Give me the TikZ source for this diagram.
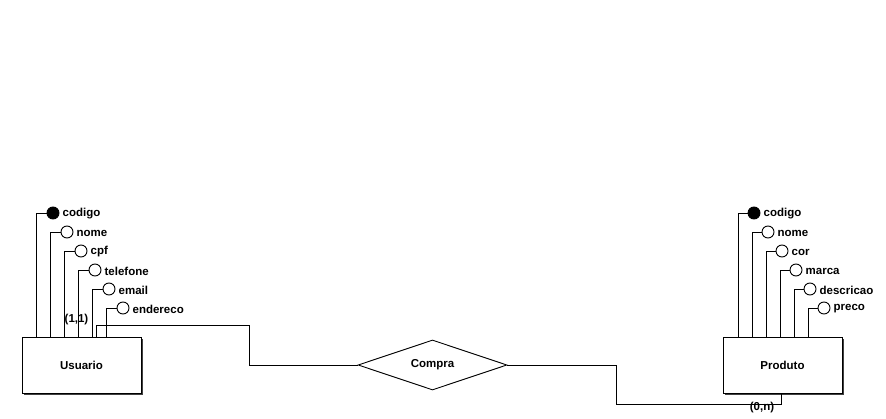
\documentclass[tikz,border=0pt]{standalone}
\usepackage{fontspec}
\setmainfont{Liberation Sans}
\usetikzlibrary{shapes.geometric,shadows}
\begin{document}
\begin{tikzpicture}[x=1pt,y=-1pt,
  every node/.style={font=\fontsize{11.5}{13}\selectfont\bfseries},
  entity/.style={draw,line width=0.9pt,fill=white,minimum width=119pt,minimum height=56pt,inner sep=0pt,
    drop shadow={shadow xshift=2pt,shadow yshift=-2pt,fill=black!75,opacity=1}},
  rel/.style={draw,diamond,aspect=3,line width=0.9pt,minimum width=149pt,minimum height=50pt,inner sep=0pt},
  attr/.style={draw,circle,line width=0.9pt,minimum size=12pt,inner sep=0pt,fill=white},
  keyattr/.style={attr,fill=black},
  alabel/.style={anchor=west,inner sep=0pt,xshift=3pt,yshift=-1pt},
  card/.style={inner sep=0pt},
  conn/.style={line width=0.9pt}]
\path[use as bounding box] (0,0) rectangle (886,419);

% entities
\node[entity] (usuario) at (81.5,365) {Usuario};
\node[entity] (produto) at (782.5,365) {Produto};
\node[rel] (compra) at (432.5,365) {\raisebox{-1pt}{Compra}};

% Usuario attributes
\node[keyattr] (u1) at (53,213) {};
\node[attr] (u2) at (67,232) {};
\node[attr] (u3) at (81,251) {};
\node[attr] (u4) at (95,270) {};
\node[attr] (u5) at (109,289) {};
\node[attr] (u6) at (123,308) {};
\node[alabel] (lu1) at (u1.east) {codigo};
\node[alabel] (lu2) at (u2.east) {nome};
\node[alabel] (lu3) at (u3.east) {cpf};
\node[alabel] (lu4) at (u4.east) {telefone};
\node[alabel] (lu5) at (u5.east) {email};
\node[alabel] (lu6) at (u6.east) {endereco};
\coordinate (ub1) at (36,337);
\coordinate (ub2) at (50,337);
\coordinate (ub3) at (64,337);
\coordinate (ub4) at (78,337);
\coordinate (ub5) at (92,337);
\coordinate (ub6) at (106,337);
\foreach \i in {1,...,6}{\draw[conn] (u\i.west) -| (ub\i);}

% Produto attributes
\node[keyattr] (p1) at (754,213) {};
\node[attr] (p2) at (768,232) {};
\node[attr] (p3) at (782,251) {};
\node[attr] (p4) at (796,270) {};
\node[attr] (p5) at (810,289) {};
\node[attr] (p6) at (824,308) {};
\node[alabel] (lp1) at (p1.east) {codigo};
\node[alabel] (lp2) at (p2.east) {nome};
\node[alabel] (lp3) at (p3.east) {cor};
\node[alabel] (lp4) at (p4.east) {marca};
\node[alabel] (lp5) at (p5.east) {descricao};
\node[alabel] (lp6) at (p6.east) {preco};
\coordinate (pb1) at (738,337);
\coordinate (pb2) at (752,337);
\coordinate (pb3) at (766,337);
\coordinate (pb4) at (780,337);
\coordinate (pb5) at (794,337);
\coordinate (pb6) at (808,337);
\foreach \i in {1,...,6}{\draw[conn] (p\i.west) -| (pb\i);}

% relationship connectors
\coordinate (us) at (96,337);
\coordinate (pr) at (781,393);
\draw[conn] (us) -- (96,325) -- (249,325) -- (249,365) -- (compra.west);
\draw[conn] (compra.east) -- (616,365) -- (616,404) -- (781,404) -- (pr);

% cardinalities
\node[card] (c1) at (76.5,320) {(1,1)};
\node[card] (c2) at (762,408) {(0,n)};
\end{tikzpicture}
\end{document}
